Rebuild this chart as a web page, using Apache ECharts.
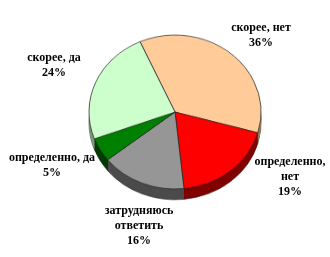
<!DOCTYPE html>
<html><head><meta charset="utf-8">
<script src="https://cdn.jsdelivr.net/npm/echarts@6/dist/echarts.min.js"></script>
<style>
html,body{margin:0;padding:0;background:#fff;}
#wrap{position:relative;width:330px;height:257px;overflow:hidden;}
#pie{position:absolute;left:0;top:0;width:330px;height:257px;transform:scaleY(0.895);transform-origin:0 112px;}
#lab{position:absolute;left:0;top:0;width:330px;height:257px;}
</style></head>
<body><div id="wrap"><div id="pie"></div><div id="lab"></div></div>
<script>
const categories = ['скорее, нет', 'определенно,\nнет', 'затрудняюсь\nответить', 'определенно, да', 'скорее, да'];
const values = [36, 19, 16, 5, 24];
const topColors = ['#FFCC99', '#FF0000', '#969696', '#008000', '#CCFFCC'];
const sideColors = ['#9c7b5a', '#800000', '#4b4b4b', '#003c00', '#7d9a7d'];
const labelPos = [[261, 35], [290, 177], [139, 226], [52, 165], [54, 65]];

const data = categories.map((c, i) => ({ name: c, value: values[i] }));
const cx = 175, cy = 112, r = 86, startAngle = 114;

const series = [];
const depth = 12;
for (let d = depth; d >= 1; d -= 1) {
  series.push({
    type: 'pie', silent: true, animation: false, clockwise: true,
    center: [cx, cy + d], radius: r, startAngle: startAngle,
    label: { show: false }, labelLine: { show: false },
    itemStyle: { borderColor: d === depth ? '#222' : 'transparent', borderWidth: d === depth ? 0.6 : 0,
      color: p => sideColors[p.dataIndex] },
    data: data
  });
}
series.push({
  type: 'pie', silent: true, animation: false, clockwise: true,
  center: [cx, cy], radius: r, startAngle: startAngle,
  label: { show: false }, labelLine: { show: false },
  itemStyle: { borderColor: '#222', borderWidth: 0.7, color: p => topColors[p.dataIndex] },
  data: data
});

const pie = echarts.init(document.getElementById('pie'), null, { renderer: 'canvas' });
pie.setOption({ animation: false, series: series });

const lab = echarts.init(document.getElementById('lab'), null, { renderer: 'canvas' });
lab.setOption({
  animation: false,
  series: [{
    type: 'pie', silent: true, center: [cx, cy], radius: r, startAngle: startAngle,
    itemStyle: { color: 'rgba(0,0,0,0)' },
    labelLine: { show: false },
    label: {
      show: true, position: 'inside', overflow: 'none',
      formatter: p => p.name + '\n' + p.value + '%',
      fontFamily: '"Liberation Serif", serif', fontWeight: 'bold', fontSize: 12,
      lineHeight: 15, color: '#000', align: 'center'
    },
    labelLayout: p => ({ x: labelPos[p.dataIndex][0], y: labelPos[p.dataIndex][1], align: 'center', verticalAlign: 'middle' }),
    data: data
  }]
});
</script></body></html>
